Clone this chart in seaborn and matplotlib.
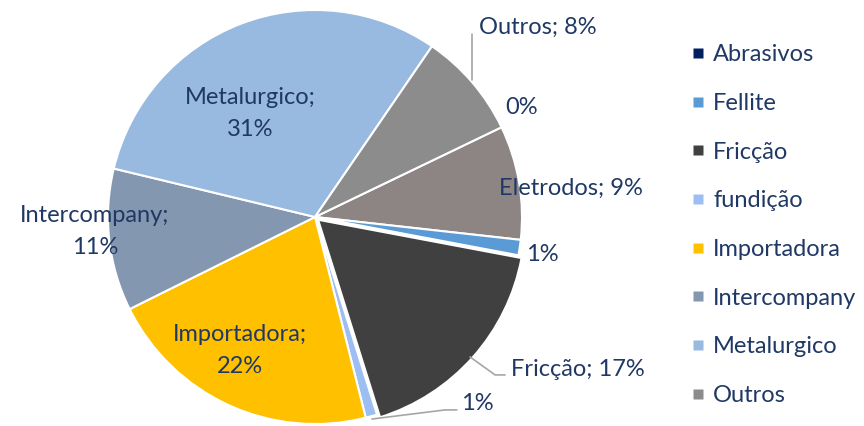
import numpy as np
import seaborn as sns
import matplotlib.pyplot as plt
from matplotlib.lines import Line2D

# data (share of total, %), in slice order clockwise
categories = ["Abrasivos", "Eletrodos", "Fellite", "Fricção", "fundição",
              "Importadora", "Intercompany", "Metalurgico", "Outros"]
values = [0.0, 8.9, 1.2, 17.2, 0.9, 21.6, 11.1, 30.8, 8.3]
colors = ["#002060", "#8C8583", "#5B9BD5", "#404040", "#9DBEF3",
          "#FFC000", "#8497B0", "#98B9E0", "#8C8C8C"]
legend_names = ["Abrasivos", "Fellite", "Fricção", "fundição", "Importadora",
                "Intercompany", "Metalurgico", "Outros"]

# label text layout: (x, y) in pie units, show category name, line break
label_pos = {
    "Abrasivos": (1.00, 0.527, False, False),
    "Eletrodos": (1.237, 0.140, True, False),
    "Fellite": (1.10, -0.179, False, False),
    "Fricção": (1.27, -0.739, True, False),
    "fundição": (0.783, -0.903, False, False),
    "Importadora": (-0.362, -0.643, True, True),
    "Intercompany": (-1.063, -0.072, True, True),
    "Metalurgico": (-0.314, 0.502, True, True),
    "Outros": (1.077, 0.918, True, False),
}
# leader lines (pie units)
leaders = [
    ([0.758, 0.758], [0.662, 0.884]),
    ([0.749, 0.870, 0.918], [-0.676, -0.763, -0.763]),
    ([0.275, 0.628, 0.685], [-0.976, -0.932, -0.932]),
]

sns.set_theme(style="white")
plt.rcParams["font.family"] = ["Lato", "DejaVu Sans"]
text_color = "#1F3864"
fs = 17

fig = plt.figure(figsize=(8.64, 4.26), dpi=100)
R = 207
cx, cy = 315, 217
ax = fig.add_axes([(cx - R) / 864, (426 - cy - R) / 426, 2 * R / 864, 2 * R / 426])

explode = [0.02 if c == "Fricção" else 0 for c in categories]
wedges, _ = ax.pie(values, colors=sns.color_palette(colors), startangle=25.7,
                   counterclock=False, explode=explode,
                   wedgeprops=dict(edgecolor="white", linewidth=1.5))
ax.set_xlim(-1, 1)
ax.set_ylim(-1, 1)
ax.set_aspect("auto")
ax.axis("off")

total = sum(values)
for cat, val in zip(categories, values):
    x, y, show_name, br = label_pos[cat]
    pct = f"{round(100 * val / total):.0f}%"
    if show_name:
        txt = f"{cat};\n{pct}" if br else f"{cat}; {pct}"
    else:
        txt = pct
    ax.text(x, y, txt, ha="center", va="center", fontsize=fs,
            color=text_color, linespacing=1.65, clip_on=False)

for xs, ys in leaders:
    ax.add_line(Line2D(xs, ys, color="#A6A6A6", lw=1.2, clip_on=False))

handles = [Line2D([], [], marker="s", linestyle="none", markersize=7.5,
                  markerfacecolor=colors[categories.index(n)],
                  markeredgecolor="none") for n in legend_names]
fig.legend(handles, legend_names, loc="upper left",
           bbox_to_anchor=(680 / 864, 1 - 35 / 426), frameon=False,
           fontsize=fs, labelcolor=text_color, handlelength=0.7,
           handletextpad=0.3, labelspacing=1.17, borderaxespad=0)

fig.savefig("out.png", dpi=100)
